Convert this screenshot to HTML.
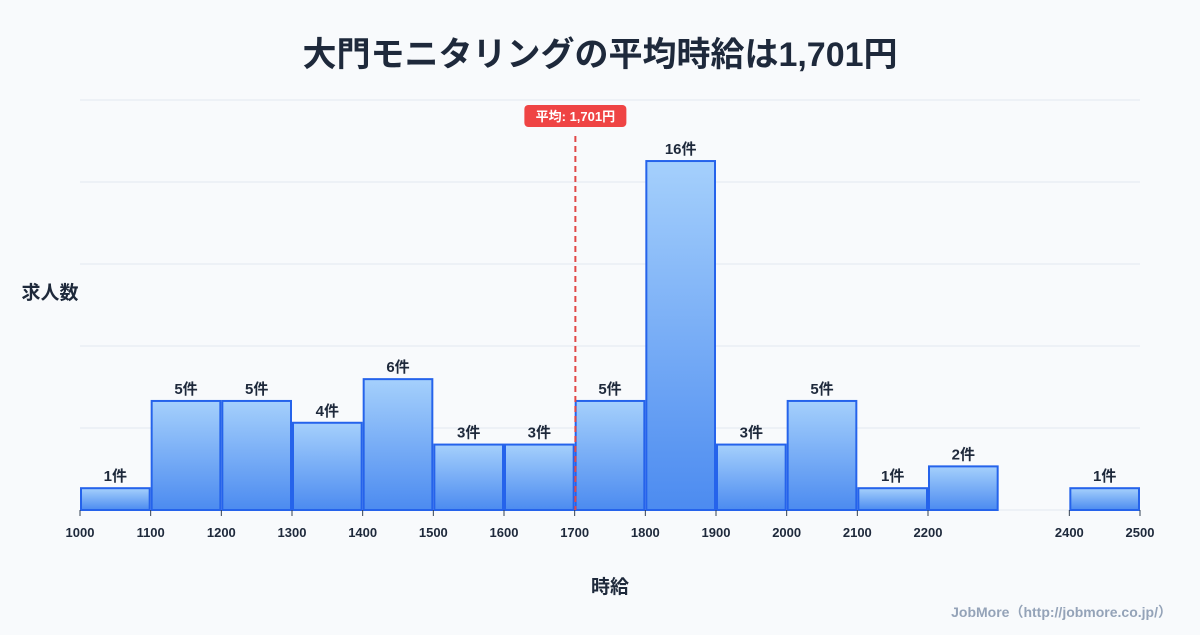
<!DOCTYPE html>
<html><head><meta charset="utf-8"><style>
body{margin:0;background:#f8fafc;font-family:"Liberation Sans","Noto Sans CJK JP",sans-serif}
svg text{font-family:"Liberation Sans","Noto Sans CJK JP",sans-serif}
</style></head><body>
<svg id="c" width="1200" height="630" viewBox="0 0 1200 630">
<defs><linearGradient id="g" x1="0" y1="0" x2="0" y2="1"><stop offset="0" stop-color="#a5d0fc"/><stop offset="1" stop-color="#4c8bf0"/></linearGradient></defs>
<rect width="1200" height="630" fill="#f8fafc"/>
<text x="600" y="66" text-anchor="middle" font-size="34" font-weight="bold" fill="#1e293b">大門モニタリングの平均時給は1,701円</text>
<g id="grid"></g><g id="bars"></g><g id="ticks"></g>
<text x="50" y="299" text-anchor="middle" font-size="19" font-weight="bold" fill="#1e293b">求人数</text>
<text x="610" y="593" text-anchor="middle" font-size="19" font-weight="bold" fill="#1e293b">時給</text>
<text x="1172" y="617" text-anchor="end" font-size="14" font-weight="bold" fill="#94a3b8">JobMore（http://jobmore.co.jp/）</text>
</svg>
<script>
const binStarts=[1000,1100,1200,1300,1400,1500,1600,1700,1800,1900,2000,2100,2200,2400];
const counts=[1,5,5,4,6,3,3,5,16,3,5,1,2,1];
const tickLabels=[1000,1100,1200,1300,1400,1500,1600,1700,1800,1900,2000,2100,2200,2400,2500];
const meanWage=1701;
const gridValues=[0,3.76,7.52,11.28,15.04,18.8];
const NS="http://www.w3.org/2000/svg";
const X=v=>80+(v-1000)*(1060/1500);
const Y=v=>510-v*21.81;
function mk(t,a,p){const e=document.createElementNS(NS,t);for(const k in a)e.setAttribute(k,a[k]);p.appendChild(e);return e;}
const grid=document.getElementById('grid'),bars=document.getElementById('bars'),ticks=document.getElementById('ticks');
gridValues.forEach(v=>{const l=mk('line',{x1:80,x2:1140,y1:Y(v),y2:Y(v),stroke:'#e2e8f0','stroke-width':1},grid);

});
binStarts.forEach((b,i)=>{const x0=X(b)+1,x1=X(b+100)-1;
const r=mk('rect',{x:x0,y:Y(counts[i]),width:x1-x0,height:510-Y(counts[i]),fill:'url(#g)',stroke:'#2563eb','stroke-width':2},bars);


const t=mk('text',{x:(x0+x1)/2,y:Y(counts[i])-7,'text-anchor':'middle','font-size':15,'font-weight':'bold',fill:'#1e293b'},bars);
t.textContent=counts[i]+'件';

});
tickLabels.forEach(v=>{const x=X(v);
const tl=mk('line',{x1:x,x2:x,y1:510,y2:516,stroke:'#334155','stroke-width':1},ticks);


const t=mk('text',{x:x,y:537,'text-anchor':'middle','font-size':13,'font-weight':'bold',fill:'#1e293b'},ticks);
t.textContent=v;

});
const mx=X(meanWage);
const ml=mk('line',{x1:mx,x2:mx,y1:136,y2:510,stroke:'#e04848','stroke-width':2,'stroke-dasharray':'6,4'},ticks);


const mb=mk('rect',{x:mx-51,y:105,width:102,height:22,rx:4,fill:'#ef4444'},ticks);


const mt=mk('text',{x:mx,y:121,'text-anchor':'middle','font-size':13,'font-weight':'bold',fill:'#fff'},ticks);
mt.textContent='平均: 1,701円';


</script>
</body></html>
